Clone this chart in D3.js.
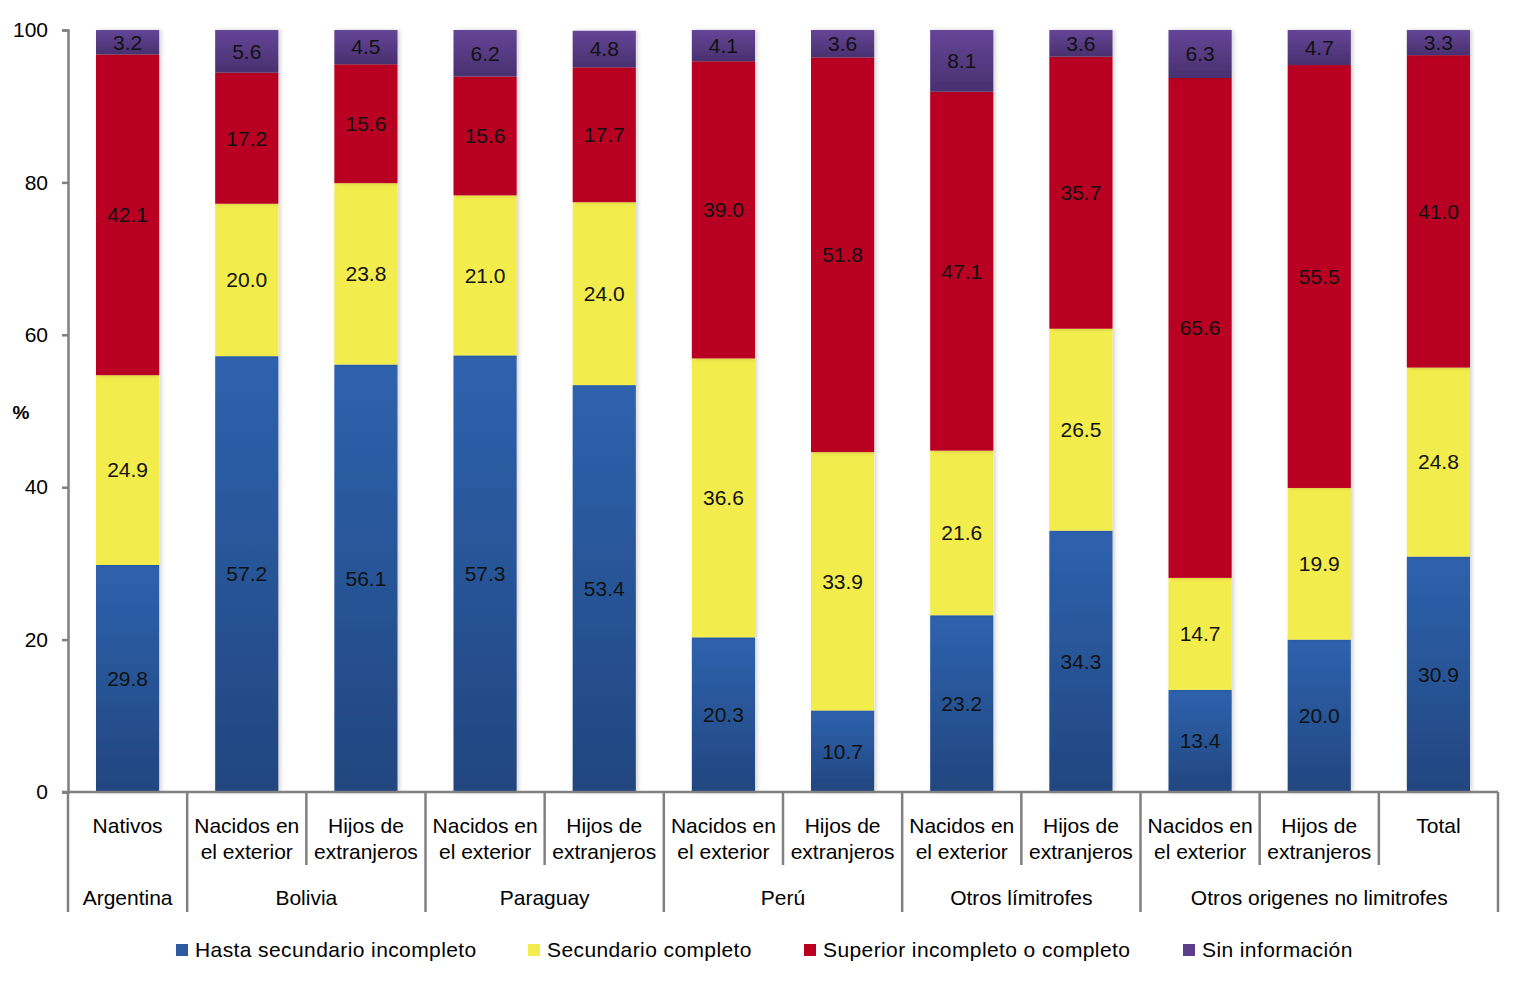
<!DOCTYPE html>
<html>
<head>
<meta charset="utf-8">
<script src="https://cdn.jsdelivr.net/npm/d3@7/dist/d3.min.js"></script>
<style>
  body { margin: 0; background: #fff; }
  svg { font-family: "Liberation Sans", Arial, sans-serif; }
</style>
</head>
<body>
<div id="viz"></div>
<script>
'use strict';

var categories = ['Nativos', 'Nacidos en|el exterior', 'Hijos de|extranjeros',
    'Nacidos en|el exterior', 'Hijos de|extranjeros', 'Nacidos en|el exterior',
    'Hijos de|extranjeros', 'Nacidos en|el exterior', 'Hijos de|extranjeros',
    'Nacidos en|el exterior', 'Hijos de|extranjeros', 'Total'];
var groups = [
    {name: 'Argentina', from: 0, to: 0},
    {name: 'Bolivia', from: 1, to: 2},
    {name: 'Paraguay', from: 3, to: 4},
    {name: 'Perú', from: 5, to: 6},
    {name: 'Otros límitrofes', from: 7, to: 8},
    {name: 'Otros origenes no limitrofes', from: 9, to: 11}
];
var seriesNames = ['Hasta secundario incompleto', 'Secundario completo',
    'Superior incompleto o completo', 'Sin información'];
var hastaSec = [29.8, 57.2, 56.1, 57.3, 53.4, 20.3, 10.7, 23.2, 34.3, 13.4, 20.0, 30.9];
var secCompleto = [24.9, 20.0, 23.8, 21.0, 24.0, 36.6, 33.9, 21.6, 26.5, 14.7, 19.9, 24.8];
var superior = [42.1, 17.2, 15.6, 15.6, 17.7, 39.0, 51.8, 47.1, 35.7, 65.6, 55.5, 41.0];
var sinInfo = [3.2, 5.6, 4.5, 6.2, 4.8, 4.1, 3.6, 8.1, 3.6, 6.3, 4.7, 3.3];
var yTicks = [0, 20, 40, 60, 80, 100];

var series = [hastaSec, secCompleto, superior, sinInfo];
var fills = ['url(#gBlue)', '#f3ec4e', '#ba0020', 'url(#gPurple)'];
var swatch = ['#2b5aa0', '#f3ec4e', '#ba0020', '#5b3f8c'];

var width = 1522, height = 982;
var plotLeft = 68, plotRight = 1498, plotTop = 30, plotBottom = 792;
var fs = 21;

var svg = d3.select('#viz').append('svg')
    .attr('width', width)
    .attr('height', height);

var defs = svg.append('defs');
var gb = defs.append('linearGradient').attr('id', 'gBlue')
    .attr('x1', 0).attr('y1', 0).attr('x2', 0).attr('y2', 1);
gb.append('stop').attr('offset', '0%').attr('stop-color', '#2e62ae');
gb.append('stop').attr('offset', '100%').attr('stop-color', '#22467f');
var gp = defs.append('linearGradient').attr('id', 'gPurple')
    .attr('x1', 0).attr('y1', 0).attr('x2', 0).attr('y2', 1);
gp.append('stop').attr('offset', '0%').attr('stop-color', '#654597');
gp.append('stop').attr('offset', '100%').attr('stop-color', '#48306f');
var sh = defs.append('filter').attr('id', 'shadow')
    .attr('x', '-20%').attr('y', '-5%').attr('width', '140%').attr('height', '110%');
sh.append('feDropShadow').attr('dx', 2).attr('dy', 0).attr('stdDeviation', 2)
    .attr('flood-color', '#000').attr('flood-opacity', 0.18);

var x = d3.scaleBand()
    .domain(d3.range(categories.length))
    .range([plotLeft, plotRight])
    .paddingInner(0.47)
    .paddingOuter(0.235);
var step = (plotRight - plotLeft) / categories.length;
var y = d3.scaleLinear().domain([0, 100]).range([plotBottom, plotTop]);

// stacked data
var rows = categories.map(function(c, i) {
    var r = {i: i};
    seriesNames.forEach(function(s, k) { r[s] = series[k][i]; });
    return r;
});
var stacked = d3.stack().keys(seriesNames)(rows);

var layers = svg.append('g').selectAll('g')
    .data(stacked)
    .enter().append('g')
    .attr('fill', (d, k) => fills[k]);

layers.selectAll('rect')
    .data(d => d)
    .enter().append('rect')
    .attr('x', d => x(d.data.i))
    .attr('width', x.bandwidth())
    .attr('y', d => y(Math.min(100, d[1])))
    .attr('height', d => y(d[0]) - y(Math.min(100, d[1])))
    .attr('filter', 'url(#shadow)');

var labels = svg.append('g');
stacked.forEach(function(layer) {
    labels.selectAll(null)
        .data(layer)
        .enter().append('text')
        .attr('x', d => x(d.data.i) + x.bandwidth() / 2)
        .attr('y', d => (y(d[0]) + y(Math.min(100, d[1]))) / 2)
        .attr('dy', '0.35em')
        .attr('text-anchor', 'middle')
        .attr('font-size', fs)
        .attr('fill', '#111')
        .text(d => d.data[layer.key].toFixed(1));
});

// y axis
var yAxis = svg.append('g')
    .attr('transform', 'translate(' + plotLeft + ',0)')
    .call(d3.axisLeft(y).tickValues(yTicks).tickSize(6).tickPadding(14));
yAxis.select('.domain').attr('stroke', '#808080').attr('stroke-width', 2.5);
yAxis.selectAll('.tick line').attr('stroke', '#808080').attr('stroke-width', 2.5);
yAxis.selectAll('.tick text')
    .attr('font-size', fs)
    .attr('fill', '#000')
    .attr('font-family', '"Liberation Sans", Arial, sans-serif');

svg.append('text')
    .attr('x', 21).attr('y', 412)
    .attr('dy', '0.35em')
    .attr('text-anchor', 'middle')
    .attr('font-size', 19)
    .attr('font-weight', 'bold')
    .text('%');

// category axis
var axisCol = '#808080';
svg.append('line')
    .attr('x1', plotLeft - 6).attr('x2', plotRight)
    .attr('y1', plotBottom).attr('y2', plotBottom)
    .attr('stroke', axisCol).attr('stroke-width', 2.5);

var groupEdges = new Set();
groups.forEach(function(g) { groupEdges.add(g.from); groupEdges.add(g.to + 1); });
d3.range(categories.length + 1).forEach(function(i) {
    var xx = plotLeft + i * step;
    var full = groupEdges.has(i);
    svg.append('line')
        .attr('x1', xx).attr('x2', xx)
        .attr('y1', plotBottom).attr('y2', full ? 912 : 865)
        .attr('stroke', axisCol).attr('stroke-width', 2.5);
});

var catLabels = svg.append('g').selectAll('text')
    .data(categories)
    .enter().append('text')
    .attr('text-anchor', 'middle')
    .attr('font-size', fs)
    .attr('fill', '#000');
catLabels.each(function(c, i) {
    var t = d3.select(this);
    c.split('|').forEach(function(line, j) {
        t.append('tspan')
            .attr('x', x(i) + x.bandwidth() / 2)
            .attr('y', 833 + j * 26)
            .text(line);
    });
});

svg.append('g').selectAll('text')
    .data(groups)
    .enter().append('text')
    .attr('x', g => plotLeft + (g.from + g.to + 1) / 2 * step)
    .attr('y', 905)
    .attr('text-anchor', 'middle')
    .attr('font-size', fs)
    .text(g => g.name);

// legend
var legendX = [176, 528, 804, 1183];
var legend = svg.append('g').selectAll('g')
    .data(seriesNames)
    .enter().append('g')
    .attr('transform', (d, k) => 'translate(' + legendX[k] + ',944)');
legend.append('rect')
    .attr('width', 12).attr('height', 12)
    .attr('fill', (d, k) => swatch[k]);
legend.append('text')
    .attr('x', 19).attr('y', 6)
    .attr('dy', '0.35em')
    .attr('font-size', fs)
    .attr('letter-spacing', 0.4)
    .text(d => d);
</script>
</body>
</html>
